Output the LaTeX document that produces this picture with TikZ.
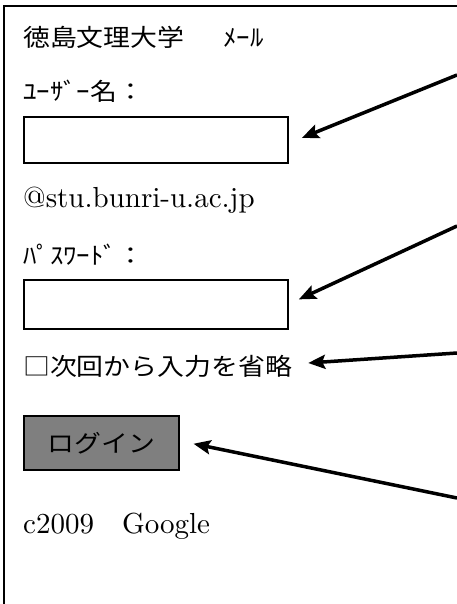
\documentclass[tikz,border=0pt]{standalone}
\usepackage{fontspec}
\setmainfont{lmroman10-regular.otf}
\newfontfamily\jpfont[FakeStretch=1.12]{Noto Sans CJK JP}
\usepackage{tikz}
\usetikzlibrary{arrows.meta,positioning}
\definecolor{btngray}{RGB}{127,127,127}

\begin{document}
\begin{tikzpicture}[x=1pt,y=-1pt,
  latintext/.style={anchor=base west,inner sep=0pt,font=\fontsize{29}{32}\selectfont},
  jptext/.style={anchor=base west,inner sep=0pt,font=\jpfont\fontsize{24}{28}\selectfont},
  inputbox/.style={draw,line width=1.8pt,anchor=north west,inner sep=0pt,minimum width=264pt},
  pointer/.style={-{Stealth[length=17pt,width=14pt,inset=3pt]},line width=3.5pt}]
  \useasboundingbox (0,0) rectangle (457,604);
  \clip (0,0) rectangle (457,604);
  %--------------- frame ---------------
  \draw[line width=1.5pt] (4,6) rectangle (480,640);
  %--------------- login form ---------------
  \node[jptext] (title) at (23,47) {徳島文理大学\hspace{39pt}ﾒｰﾙ};
  \node[jptext] (userlbl) at (23,101) {ﾕｰｻﾞｰ名：};
  \node[inputbox,minimum height=46pt] (userbox) at (23,116) {};
  \node[latintext] (domain) at (23,207) {@stu.bunri-u.ac.jp};
  \node[jptext] (passlbl) at (23,264) {ﾊﾟｽﾜｰﾄﾞ：};
  \node[inputbox,minimum height=49pt] (passbox) at (23,279) {};
  \node[jptext] (skip) at (23,375) {□次回から入力を省略};
  % button
  \node[draw,line width=1.5pt,fill=btngray,anchor=north west,minimum width=155pt,
    minimum height=54pt,font=\jpfont\fontsize{24}{28}\selectfont] (login) at (23,415) {ログイン};
  \node[latintext] (copy) at (23,533) {c2009\hspace{28pt}Google};
  %--------------- arrows ---------------
  \coordinate (s1) at (457,75);
  \coordinate (s2) at (457,226);
  \coordinate (s3) at (457,353);
  \coordinate (s4) at (457,498);
  \draw[pointer] (s1) -- ([xshift=13pt,yshift=2pt]userbox.east);
  \draw[pointer] (s2) -- ([xshift=10pt,yshift=5pt]passbox.east);
  \draw[pointer] (s3) -- ([xshift=16pt,yshift=12pt]skip.base east);
  \draw[pointer] (s4) -- ([xshift=14pt,yshift=-1pt]login.east);
\end{tikzpicture}
\end{document}
